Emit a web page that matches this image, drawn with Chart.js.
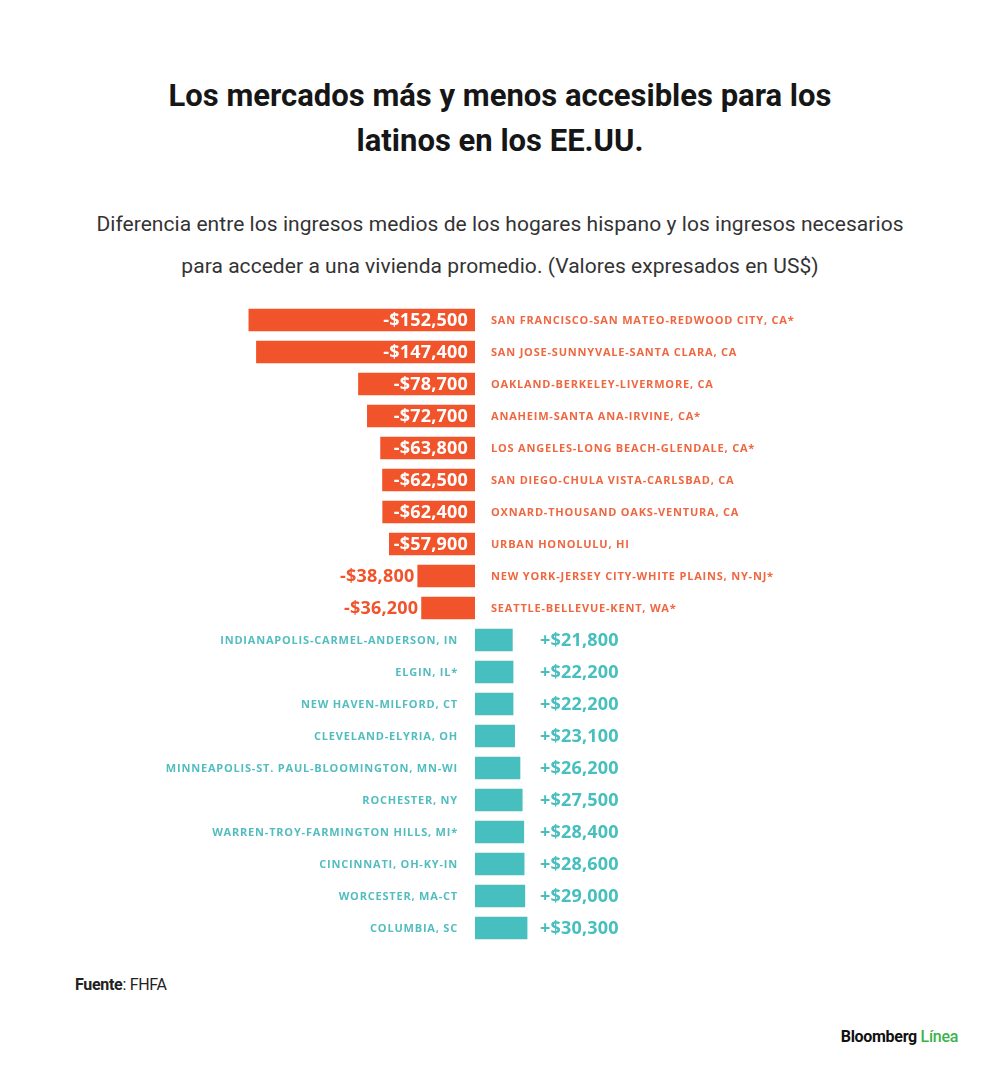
<!DOCTYPE html>
<html>
<head>
<meta charset="utf-8">
<script src="https://cdn.jsdelivr.net/npm/chart.js@4.4.1/dist/chart.umd.min.js"></script>
<style>
  html, body { margin: 0; padding: 0; background: #fff; }
  #page { position: relative; width: 1000px; height: 1082px; overflow: hidden; font-family: Roboto, "Noto Sans", sans-serif; }
  .title { position: absolute; left: 0; width: 1000px; text-align: center; font-weight: 700; font-size: 31px; color: #161616; letter-spacing: 0px; }
  .sub { position: absolute; left: 0; width: 1000px; text-align: center; font-size: 21px; color: #333; letter-spacing: 0.05px; }
  #src { position: absolute; left: 75px; top: 975px; font-size: 16px; color: #222; letter-spacing: -0.3px; }
  #brand { position: absolute; right: 42px; top: 1027px; font-size: 16px; font-weight: 700; color: #111; letter-spacing: -0.3px; }
  #brand span { color: #3cb34a; font-weight: 500; }
  #wrap { position: absolute; left: 0; top: 304px; width: 1000px; height: 640px; }
</style>
</head>
<body>
<div id="page">
  <div class="title" style="top:77px">Los mercados más y menos accesibles para los</div>
  <div class="title" style="top:122px">latinos en los EE.UU.</div>
  <div class="sub" style="top:212px">Diferencia entre los ingresos medios de los hogares hispano y los ingresos necesarios</div>
  <div class="sub" style="top:254px">para acceder a una vivienda promedio. (Valores expresados en US$)</div>
  <div id="wrap"><canvas id="chart"></canvas></div>
  <div id="src"><b>Fuente</b>: FHFA</div>
  <div id="brand">Bloomberg <span>Línea</span></div>
</div>
<script>
var markets = [
  'SAN FRANCISCO-SAN MATEO-REDWOOD CITY, CA*',
  'SAN JOSE-SUNNYVALE-SANTA CLARA, CA',
  'OAKLAND-BERKELEY-LIVERMORE, CA',
  'ANAHEIM-SANTA ANA-IRVINE, CA*',
  'LOS ANGELES-LONG BEACH-GLENDALE, CA*',
  'SAN DIEGO-CHULA VISTA-CARLSBAD, CA',
  'OXNARD-THOUSAND OAKS-VENTURA, CA',
  'URBAN HONOLULU, HI',
  'NEW YORK-JERSEY CITY-WHITE PLAINS, NY-NJ*',
  'SEATTLE-BELLEVUE-KENT, WA*',
  'INDIANAPOLIS-CARMEL-ANDERSON, IN',
  'ELGIN, IL*',
  'NEW HAVEN-MILFORD, CT',
  'CLEVELAND-ELYRIA, OH',
  'MINNEAPOLIS-ST. PAUL-BLOOMINGTON, MN-WI',
  'ROCHESTER, NY',
  'WARREN-TROY-FARMINGTON HILLS, MI*',
  'CINCINNATI, OH-KY-IN',
  'WORCESTER, MA-CT',
  'COLUMBIA, SC'
];
var gaps = [
  -152500, -147400, -78700, -72700, -63800, -62500, -62400, -57900, -38800, -36200,
  21800, 22200, 22200, 23100, 26200, 27500, 28400, 28600, 29000, 30300
];

var orange = '#f1532a';
var teal = '#47bfbf';
var orangeText = '#ef6741';
var tealText = '#52bdbf';

// the original uses a different px-per-dollar on each side of zero
var zeroPx = 475, chartW = 1000;
var negPx = 0.001485, posPx = 0.00173;

var negVals = gaps.map(function (v) { return v < 0 ? v : null; });
var posVals = gaps.map(function (v) { return v >= 0 ? v : null; });

function fmt(v) {
  return (v < 0 ? '-' : '+') + '$' + Math.abs(v).toLocaleString('en-US');
}

var labelPlugin = {
  id: 'barLabels',
  afterDatasetsDraw: function (chart) {
    var ctx = chart.ctx;
    ctx.save();
    ctx.textBaseline = 'middle';
    var valFont = 'bold 18px "Open Sans"';
    var nameFont = 'bold 11px "Open Sans"';

    chart.getDatasetMeta(0).data.forEach(function (bar, i) {
      var v = gaps[i];
      if (v >= 0) return;
      var left = Math.min(bar.x, bar.base), right = Math.max(bar.x, bar.base);
      var txt = fmt(v);
      ctx.font = valFont;
      ctx.letterSpacing = '0.2px';
      var w = ctx.measureText(txt).width;
      ctx.textAlign = 'right';
      if (w + 10 < right - left) {
        ctx.fillStyle = '#fff';
        ctx.fillText(txt, right - 7, bar.y + 1);
      } else {
        ctx.fillStyle = orange;
        ctx.fillText(txt, left - 3, bar.y + 1);
      }
      ctx.font = nameFont;
      ctx.letterSpacing = '0.8px';
      ctx.textAlign = 'left';
      ctx.fillStyle = orangeText;
      ctx.fillText(markets[i], right + 16, bar.y + 1);
    });

    chart.getDatasetMeta(1).data.forEach(function (bar, i) {
      var v = gaps[i];
      if (v < 0) return;
      var left = Math.min(bar.x, bar.base);
      ctx.font = nameFont;
      ctx.letterSpacing = '0.8px';
      ctx.textAlign = 'right';
      ctx.fillStyle = tealText;
      ctx.fillText(markets[i], left - 17, bar.y + 1);
      ctx.font = valFont;
      ctx.letterSpacing = '0.2px';
      ctx.textAlign = 'left';
      ctx.fillStyle = teal;
      ctx.fillText(fmt(v), zeroPx + 65, bar.y + 1);
    });
    ctx.restore();
  }
};

new Chart(document.getElementById('chart'), {
  type: 'bar',
  data: {
    labels: markets,
    datasets: [
      { data: negVals, backgroundColor: orange, xAxisID: 'xNeg', grouped: false },
      { data: posVals, backgroundColor: teal, xAxisID: 'xPos', grouped: false }
    ]
  },
  options: {
    indexAxis: 'y',
    responsive: true,
    maintainAspectRatio: false,
    animation: false,
    layout: { padding: 0 },
    categoryPercentage: 1,
    barPercentage: 0.71,
    plugins: { legend: { display: false }, tooltip: { enabled: false } },
    scales: {
      y: { display: false },
      xNeg: { type: 'linear', display: false, min: -zeroPx / negPx, max: (chartW - zeroPx) / negPx },
      xPos: { type: 'linear', display: false, min: -zeroPx / posPx, max: (chartW - zeroPx) / posPx }
    }
  },
  plugins: [labelPlugin]
});
</script>
</body>
</html>
